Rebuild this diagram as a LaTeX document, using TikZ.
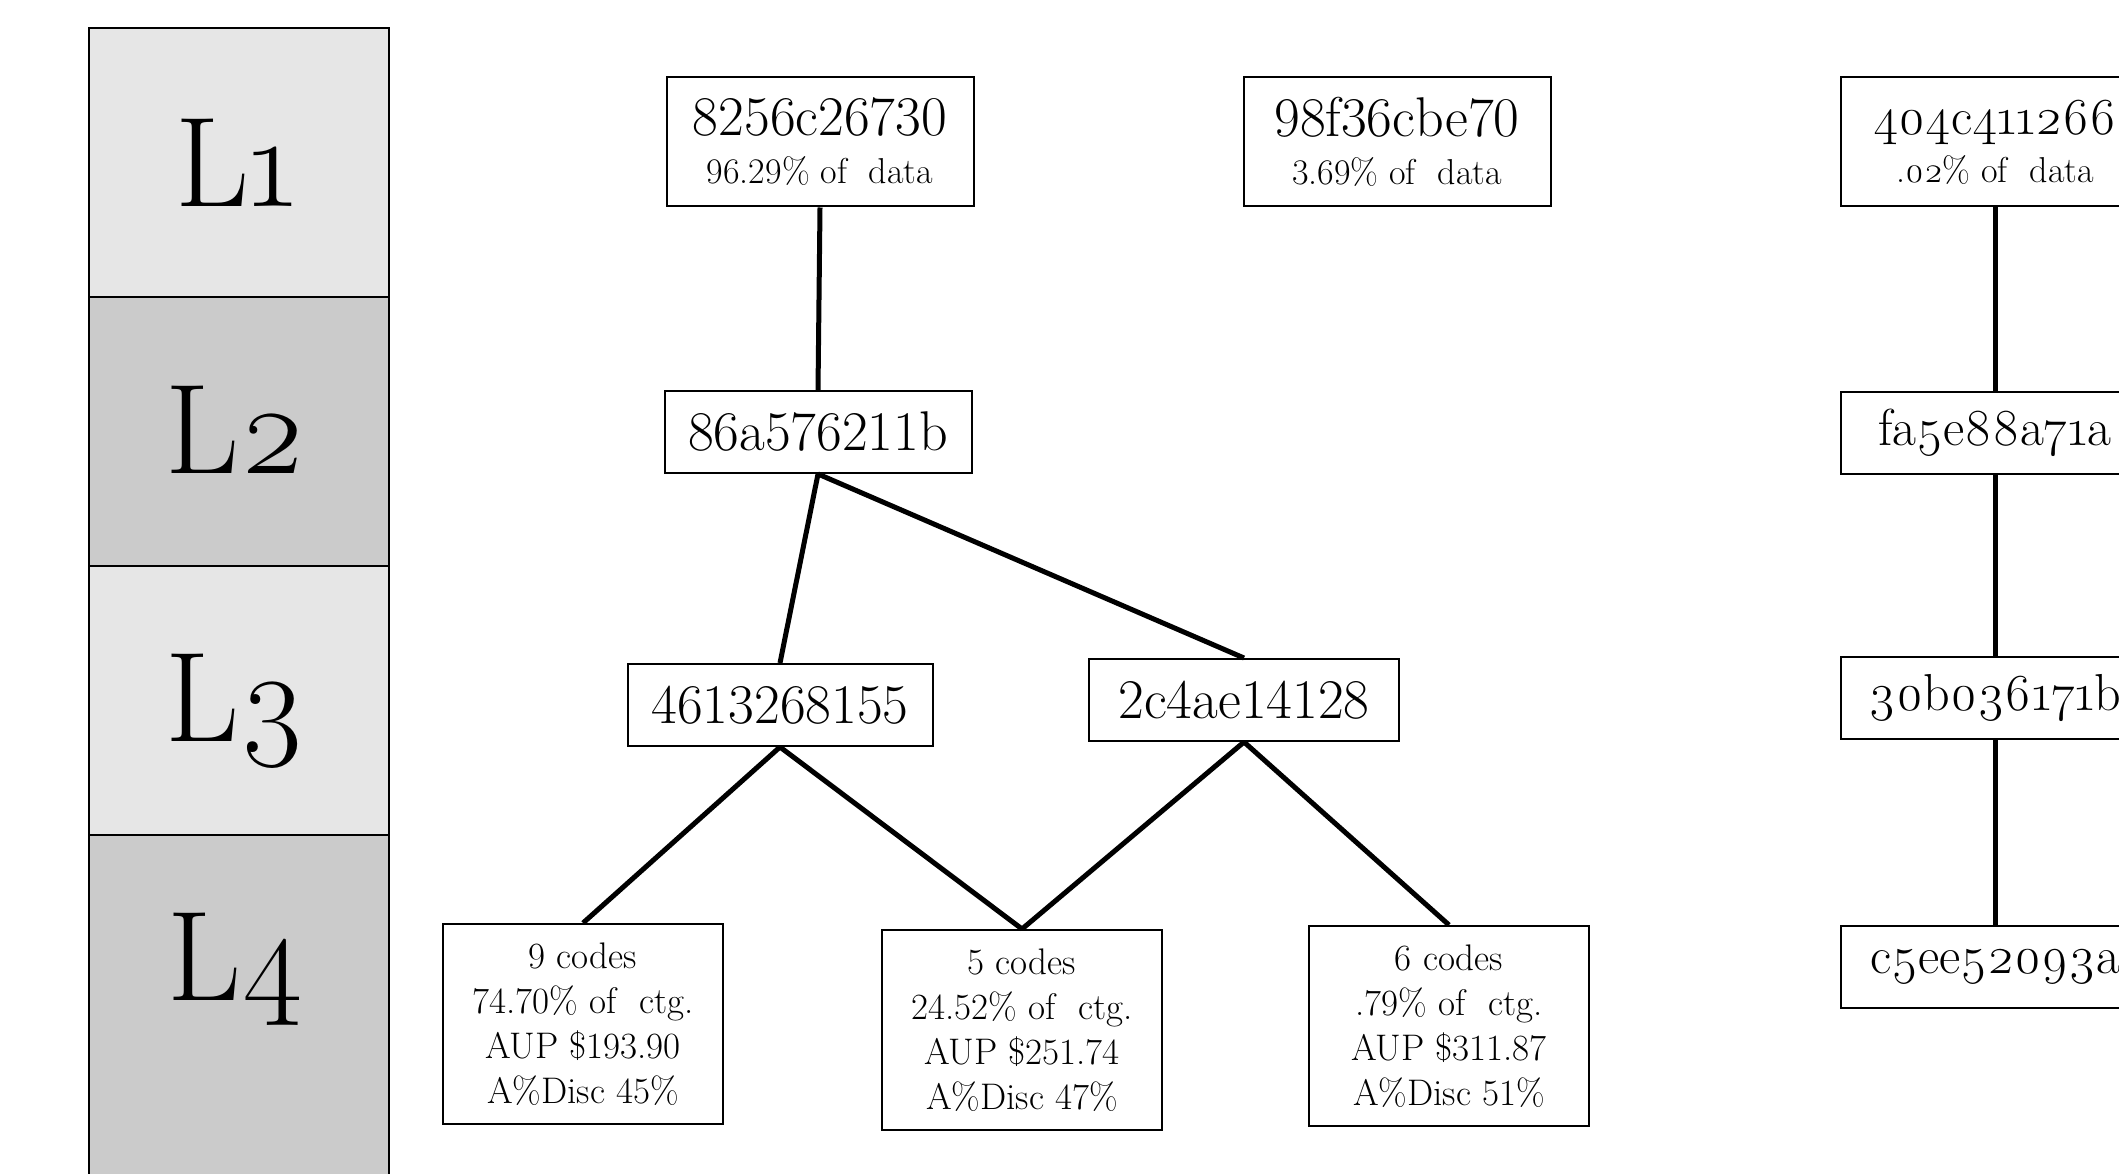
\documentclass[tikz,border=0pt]{standalone}
\usepackage{fontspec}
\newfontfamily\osfam{Latin Modern Roman}[Numbers=OldStyle]
\begin{document}
\begin{tikzpicture}[x=1pt,y=-1pt,
  idbox/.style={draw, line width=2pt, inner sep=0pt, minimum width=307pt, minimum height=82pt, font=\fontsize{56}{56}\selectfont},
  topbox/.style={idbox, minimum height=129pt, align=center, font=\fontsize{36}{48}\selectfont},
  rbox/.style={idbox, font=\osfam\fontsize{52}{52}\selectfont},
  rtopbox/.style={topbox, font=\osfam\fontsize{36}{48}\selectfont},
  leafbox/.style={draw, line width=2pt, inner sep=0pt, minimum width=280pt, minimum height=200pt, align=center, font=\fontsize{37}{45}\selectfont},
  link/.style={line width=5pt},
  cellbox/.style={draw, line width=2.5pt},
  lab/.style={anchor=base, font=\osfam\fontsize{128}{128}\selectfont}
]
\useasboundingbox (0,0) rectangle (2119,1174);
% level column
\draw[cellbox, fill={rgb,255:red,230;green,230;blue,230}] (89,28) rectangle (389,297);
\draw[cellbox, fill={rgb,255:red,203;green,203;blue,203}] (89,297) rectangle (389,566);
\draw[cellbox, fill={rgb,255:red,230;green,230;blue,230}] (89,566) rectangle (389,835);
\draw[cellbox, fill={rgb,255:red,203;green,203;blue,203}] (89,835) rectangle (389,1220);
\node[lab] (l1) at (236,207) {L1};
\node[lab] (l2) at (236,473) {L2};
\node[lab] (l3) at (236,741) {L3};
\node[lab] (l4) at (236,1000) {L4};
% main tree
\node[topbox] (a) at (820,142) {{\fontsize{56}{56}\selectfont 8256c26730}\\96.29\% of\ \ data};
\node[topbox] (b) at (1397,142) {{\fontsize{56}{56}\selectfont 98f36cbe70}\\3.69\% of\ \ data};
\node[idbox] (a2) at (818,432) {86a576211b};
\node[idbox, minimum width=305pt] (a3) at (780,705) {4613268155};
\node[idbox, minimum width=310pt] (b3) at (1244,700) {2c4ae14128};
\node[leafbox] (x1) at (583,1024) {9 codes\\74.70\% of\ \ ctg.\\AUP \$193.90\\A\%Disc 45\%};
\node[leafbox] (x2) at (1022,1030) {5 codes\\24.52\% of\ \ ctg.\\AUP \$251.74\\A\%Disc 47\%};
\node[leafbox] (x3) at (1449,1026) {6 codes\\.79\% of\ \ ctg.\\AUP \$311.87\\A\%Disc 51\%};
% right chain
\node[rtopbox, minimum width=308pt] (c) at (1995,142) {{\fontsize{52}{52}\selectfont 404c411266}\\.02\% of\ \ data};
\node[rbox, minimum width=308pt] (c2) at (1995,433) {fa5e88a71a};
\node[rbox, minimum width=308pt] (c3) at (1995,698) {30b036171b};
\node[rbox, minimum width=308pt] (c4) at (1995,967) {c5ee52093a};
% connectors
\draw[link] (a.south) -- (a2.north);
\draw[link] (a2.south) -- (a3.north);
\draw[link] (a2.south) -- (b3.north);
\draw[link] (a3.south) -- (x1.north);
\draw[link] (a3.south) -- (x2.north);
\draw[link] (b3.south) -- (x2.north);
\draw[link] (b3.south) -- (x3.north);
\draw[link] (c.south) -- (c2.north);
\draw[link] (c2.south) -- (c3.north);
\draw[link] (c3.south) -- (c4.north);
\end{tikzpicture}
\end{document}
